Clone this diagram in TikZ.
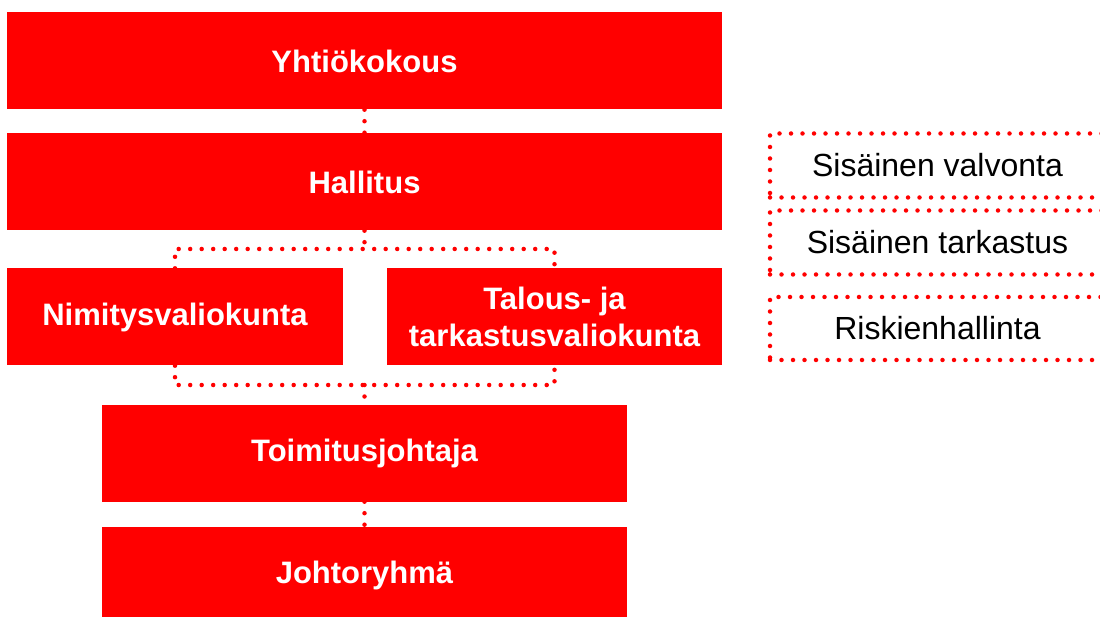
\documentclass[tikz,border=0pt]{standalone}
\usepackage{fontspec}
\setmainfont{Liberation Sans}
\begin{document}
\begin{tikzpicture}[x=1pt, y=-1pt,
        unit/.style = {fill=red, text=white, inner sep=0pt, align=center,
          minimum height=97pt, font=\bfseries\fontsize{31}{37}\selectfont},
        dots/.style = {red, line width=4.5pt, line cap=round, dash pattern=on 0pt off 11.5pt},
        side/.style = {dots, draw, text=black, inner sep=0pt, minimum width=335pt,
          minimum height=64pt, font=\fontsize{32}{37}\selectfont}]
        \useasboundingbox (0,0) rectangle (1100,617);
        \clip (0,0) rectangle (1100,617);
        % governance chain
        \node[unit, minimum width=715pt] (yhtio) at (364.5,61) {Yhtiökokous};
        \node[unit, minimum width=715pt] (hallitus) at (364.5,182) {Hallitus};
        \node[unit, minimum width=336pt] (nimitys) at (175,317) {Nimitysvaliokunta};
        \node[unit, minimum width=335pt] (talous) at (554.5,317) {Talous- ja\\tarkastusvaliokunta};
        \node[unit, minimum width=525pt] (toimitus) at (364.5,453) {Toimitusjohtaja};
        \node[unit, minimum width=525pt] (johto) at (364.5,575) {Johtoryhmä};
        % control functions
        \node[side] (valvonta) at (937.5,165.5) {Sisäinen valvonta};
        \node[side] (tarkastus) at (937.5,242.5) {Sisäinen tarkastus};
        \node[side, minimum height=63pt] (riskit) at (937.5,328.5) {Riskienhallinta};
        % dotted links
        \coordinate (split) at (364.5,249);
        \coordinate (merge) at (364.5,385);
        \draw[dots] (yhtio) -- (hallitus);
        \draw[dots] (hallitus) -- (split);
        \draw[dots] (nimitys.north) |- (split) -| (talous.north);
        \draw[dots] (nimitys.south) |- (merge) -| (talous.south);
        \draw[dots] (merge) -- (toimitus);
        \draw[dots] (toimitus) -- (johto);
      \end{tikzpicture}
\end{document}
